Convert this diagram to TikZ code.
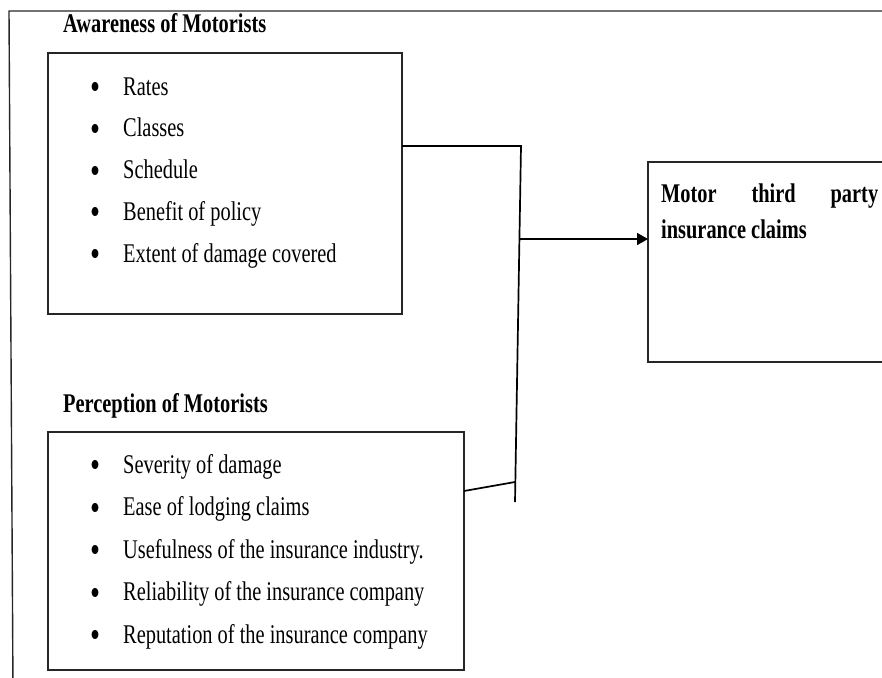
\documentclass[tikz,border=0pt]{standalone}
\usepackage{fontspec}
\setmainfont{Liberation Serif}[FakeStretch=0.755]
\usetikzlibrary{arrows.meta,calc}
\begin{document}
\begin{tikzpicture}[x=1pt,y=-1pt,
  box/.style={draw=black!85, line width=1.4pt, inner sep=0pt, outer sep=0pt, anchor=north west},
  item/.style={anchor=base west, inner sep=0pt, font=\fontsize{27}{32}\selectfont},
  bul/.style={anchor=base, inner sep=0pt, font=\fontsize{27}{32}\selectfont},
  ttl/.style={anchor=base west, inner sep=0pt, font=\fontsize{27}{32}\selectfont\bfseries},
  conn/.style={line width=1.7pt, black}]
\useasboundingbox (0,0) rectangle (882,677);
% outer frame (top and left sides visible)
\draw[line width=1.4pt, black!85] (13,690) -- (9,11) -- (895,11);
% boxes
\node[box, minimum width=354pt, minimum height=261pt] (box1) at (48,53) {};
\node[box, minimum width=416pt, minimum height=238pt] (box2) at (48,432) {};
\node[box, minimum width=245pt, minimum height=200pt] (box3) at (648,162) {};
% titles
\node[ttl] (t1) at (63,33) {Awareness of Motorists};
\node[ttl] (t2) at (63,412) {Perception of Motorists};
\node[ttl] (m1) at (661,202) {\hbox to 217pt{Motor\hfill third\hfill party}};
\node[ttl] (m2) at (661,238) {insurance claims};
% items
\foreach \t [count=\i] in {Rates, Classes, Schedule, Benefit of policy, Extent of damage covered}{
  \node[bul] (ab\i) at (95,{95+41.75*(\i-1)}) {\raisebox{-4.5pt}{\scalebox{1.4}{•}}};
  \node[item] (a\i) at (123,{95+41.75*(\i-1)}) {\t};
}
\foreach \t [count=\i] in {Severity of damage, Ease of lodging claims, Usefulness of the insurance industry., Reliability of the insurance company, Reputation of the insurance company}{
  \node[bul] (pb\i) at (95,{473+42.5*(\i-1)}) {\raisebox{-4.5pt}{\scalebox{1.4}{•}}};
  \node[item] (p\i) at (123,{473+42.5*(\i-1)}) {\t};
}
% connectors
\coordinate (j1) at (521,146);
\coordinate (j2) at (515,502);
\coordinate (j3) at (519.4,239);
\coordinate (j4) at (515,482);
\draw[conn] (box1.east |- j1) -- (j1) -- (j2);
\draw[conn] ($(box2.north east)+(0,59)$) -- (j4);
\draw[conn, -{Triangle[length=11pt,width=12pt]}] (j3) -- (box3.west |- j3);
\end{tikzpicture}
\end{document}
